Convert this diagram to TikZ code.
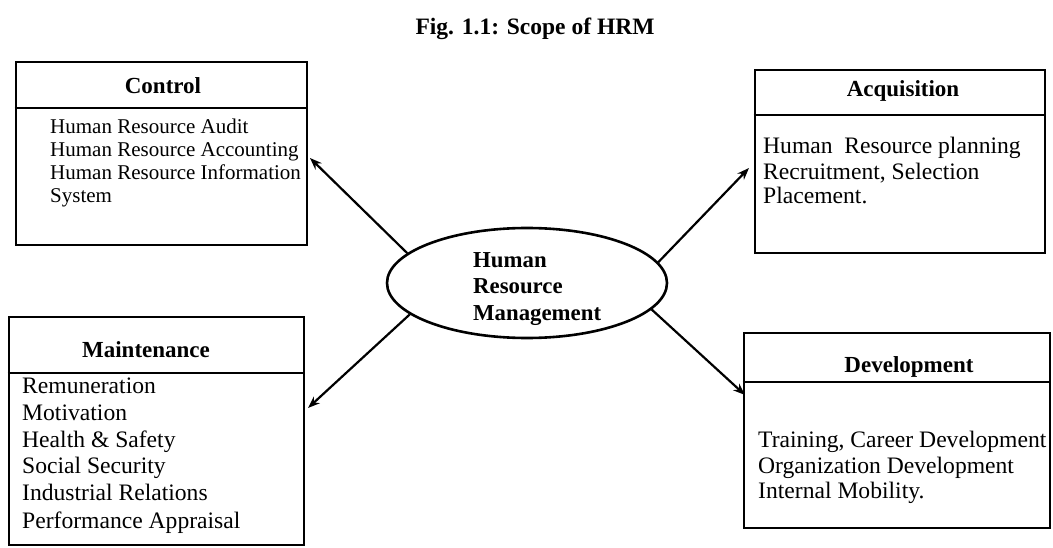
\documentclass[tikz,border=0pt]{standalone}
\usepackage{fontspec}
\setmainfont{Liberation Serif}
\usetikzlibrary{arrows.meta,shapes.geometric}
\begin{document}
\begin{tikzpicture}[x=1pt,y=-1pt,
  box/.style={draw, line width=2.6pt, rectangle, inner sep=0pt},
  divider/.style={line width=2.6pt},
  head/.style={font=\fontsize{23}{27}\selectfont\bfseries, anchor=base, inner sep=0pt},
  body/.style={font=\fontsize{23.6}{27}\selectfont, anchor=base west, inner sep=0pt},
  smallbody/.style={font=\fontsize{21}{23}\selectfont, anchor=base west, inner sep=0pt},
  hrmtext/.style={font=\fontsize{22.8}{26}\selectfont\bfseries, anchor=base west, inner sep=0pt},
  arr/.style={-{Stealth[length=12pt,width=9pt]}, line width=2.2pt}]
\useasboundingbox (0,0) rectangle (1053,548);
\fill[white] (0,0) rectangle (1053,548);

% title
\node[head, font=\fontsize{23.5}{27}\selectfont\bfseries] (title) at (535,35) {Fig. 1.1: Scope of HRM};

% boxes
\node[box, minimum width=291pt, minimum height=183pt] (ctrl) at (161.5,153.5) {};
\node[box, minimum width=290pt, minimum height=183pt] (acq) at (900,161.5) {};
\node[box, minimum width=295pt, minimum height=228pt] (maint) at (156.5,431) {};
\node[box, minimum width=306pt, minimum height=195pt] (dev) at (897,430.5) {};

\draw[divider] (ctrl.west |- 0,108) -- (ctrl.east |- 0,108);
\draw[divider] (acq.west |- 0,115) -- (acq.east |- 0,115);
\draw[divider] (maint.west |- 0,373) -- (maint.east |- 0,373);
\draw[divider] (dev.west |- 0,382) -- (dev.east |- 0,382);

% headers
\node[head] (ctrlh) at (163,94) {Control};
\node[head] (acqh) at (903,97) {Acquisition};
\node[head] (mainth) at (146,357) {Maintenance};
\node[head] (devh) at (909,372) {Development};

% control body
\node[smallbody] (c1) at (50,134) {Human Resource Audit};
\node[smallbody] (c2) at (50,157) {Human Resource Accounting};
\node[smallbody] (c3) at (50,180) {Human Resource Information};
\node[smallbody] (c4) at (50,203) {System};

% acquisition body
\node[body] (a1) at (763,154) {Human\ \ Resource planning};
\node[body] (a2) at (763,180) {Recruitment, Selection};
\node[body] (a3) at (763,204) {Placement.};

% maintenance body
\node[body] (m1) at (22,393) {Remuneration};
\node[body] (m2) at (22,420) {Motivation};
\node[body] (m3) at (22,447) {Health \& Safety};
\node[body] (m4) at (22,473) {Social Security};
\node[body] (m5) at (22,500) {Industrial Relations};
\node[body] (m6) at (22,528) {Performance Appraisal};

% development body
\node[body] (d1) at (758,447) {Training, Career Development};
\node[body] (d2) at (758,473) {Organization Development};
\node[body] (d3) at (758,498) {Internal Mobility.};

% centre ellipse
\node[ellipse, draw, line width=2.6pt, minimum width=280pt, minimum height=110pt, inner sep=0pt] (hrm) at (527,283) {};
\node[hrmtext] (h1) at (473,268) {Human};
\node[hrmtext] (h2) at (473,294) {Resource};
\node[hrmtext] (h3) at (473,320) {Management};

% arrow tips
\coordinate (ctrltip) at (310,158);
\coordinate (acqtip) at (749,168);
\coordinate (mainttip) at (308,408);
\coordinate (devtip) at (745,395);

\draw[arr] (hrm.166) -- (ctrltip);
\draw[arr] (hrm.9) -- (acqtip);
\draw[arr] (hrm.195) -- (mainttip);
\draw[arr] (hrm.348) -- (devtip);
\end{tikzpicture}
\end{document}
